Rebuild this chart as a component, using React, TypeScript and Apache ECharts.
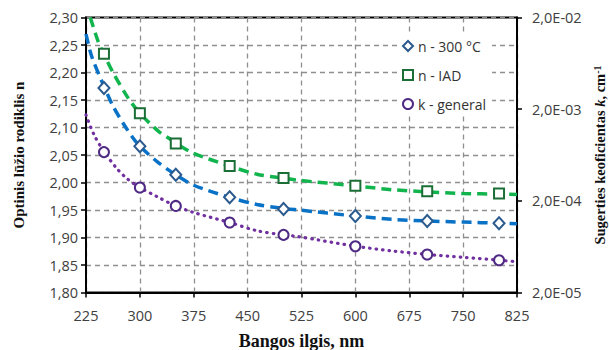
import React, { useEffect, useRef } from 'react';
import * as echarts from 'echarts';

// Measured points (wavelength, nm)
const measuredWavelengths = [250, 300, 350, 425, 500, 600, 700, 800];
const n300 = [2.172, 2.066, 2.014, 1.973, 1.952, 1.939, 1.93, 1.926];
const nIAD = [2.234, 2.126, 2.071, 2.03, 2.008, 1.994, 1.984, 1.98];
const kGeneral = [6.8e-4, 2.8e-4, 1.76e-4, 1.16e-4, 8.5e-5, 6.4e-5, 5.2e-5, 4.5e-5];

// Fitted dispersion curves
const fitN300Wavelengths = [225, 233, 250, 263, 278, 291, 300, 324, 350, 375, 425, 463, 500, 521, 600, 650, 700, 750, 800, 825];
const fitN300 = [2.27, 2.229, 2.175, 2.138, 2.105, 2.08, 2.066, 2.038, 2.014, 1.995, 1.973, 1.96, 1.953, 1.95, 1.939, 1.933, 1.93, 1.928, 1.926, 1.925];

const fitNIADWavelengths = [231, 242, 250, 263, 284, 300, 326, 342, 350, 375, 425, 463, 500, 521, 600, 650, 700, 750, 800, 825];
const fitNIAD = [2.3, 2.256, 2.233, 2.199, 2.153, 2.126, 2.093, 2.079, 2.071, 2.053, 2.03, 2.015, 2.008, 2.004, 1.994, 1.987, 1.983, 1.98, 1.979, 1.978];

const fitKWavelengths = [225, 236, 250, 268, 282, 300, 324, 350, 375, 425, 463, 500, 521, 600, 649, 700, 751, 800, 825];
const fitK = [1.73e-3, 1.06e-3, 6.9e-4, 4.5e-4, 3.5e-4, 2.8e-4, 2.22e-4, 1.76e-4, 1.49e-4, 1.16e-4, 9.44e-5, 8.5e-5, 8.13e-5, 6.4e-5, 5.71e-5, 5.2e-5, 4.84e-5, 4.5e-5, 4.34e-5];

// Axis ranges
const xMin = 225;
const xMax = 825;
const xStep = 75;
const nMin = 1.8;
const nMax = 2.3;
const nStep = 0.05;
const kMin = 2e-5;
const kDecades = 3;

// Legend entries and their marker colours
const legendNames = ['n - 300 °C', 'n - IAD', 'k - general'];
const markerColors = ['#2b5a8e', '#1b6e36', '#4e2a84'];

// k is drawn on a decade scale measured from kMin
const kToAxis = (k: number) => Math.log10(k / kMin);
const kLabel = (v: number) => {
  const exp = Math.round(v) + Math.round(Math.log10(kMin / 2));
  const sign = exp < 0 ? '-' : '+';
  return `2,0E${sign}${String(Math.abs(exp)).padStart(2, '0')}`;
};

const pairs = (xs: number[], ys: number[]) => xs.map((x, i) => [x, ys[i]]);

const tickFont = { fontFamily: 'Open Sans', fontSize: 14.5, color: '#404040' };
const titleBase = { fontFamily: 'Liberation Serif', fontWeight: 'bold' as const, color: '#111' };

export default function App() {
  const ref = useRef<HTMLDivElement>(null);

  useEffect(() => {
    const chart = echarts.init(ref.current!, null, { renderer: 'svg' });
    const gridLine = { show: true, lineStyle: { color: '#8f8f8f', width: 1.3, type: [5, 4] } };
    const axisLine = { show: true, lineStyle: { color: '#000', width: 2 } };
    const axisTick = { show: true, inside: false, length: 5, lineStyle: { color: '#000', width: 1.5 } };
    const hollow = (color: string) => ({ color: '#fff', borderColor: color, borderWidth: 2, opacity: 1 });

    chart.setOption({
      animation: false,
      backgroundColor: '#fff',
      grid: {
        left: 86,
        right: 92,
        top: 17.5,
        bottom: 57.5,
        outerBoundsMode: 'none',
        containLabel: false,
        show: true,
        borderColor: '#000',
        borderWidth: 2,
        backgroundColor: 'transparent',
      },
      legend: {
        orient: 'vertical',
        left: 397,
        top: 34,
        padding: [5, 6, 5, 5],
        itemGap: 15,
        itemWidth: 10,
        itemHeight: 10,
        backgroundColor: '#fff',
        data: legendNames.map((name, i) => ({ name, itemStyle: hollow(markerColors[i]) })),
        textStyle: { fontFamily: 'Open Sans', fontSize: 14, color: '#333' },
      },
      xAxis: {
        type: 'value',
        min: xMin,
        max: xMax,
        interval: xStep,
        name: 'Bangos ilgis, nm',
        nameLocation: 'middle',
        nameGap: 39,
        nameTextStyle: { ...titleBase, fontSize: 18 },
        axisLine,
        axisTick,
        axisLabel: { ...tickFont, margin: 15 },
        splitLine: gridLine,
      },
      yAxis: [
        {
          type: 'value',
          min: nMin,
          max: nMax,
          interval: nStep,
          name: 'Optinis lūžio rodiklis n',
          nameLocation: 'middle',
          nameGap: 60,
          nameRotate: 90,
          nameTextStyle: { ...titleBase, fontSize: 15 },
          axisLine,
          axisTick,
          axisLabel: { ...tickFont, margin: 8, formatter: (v: number) => v.toFixed(2).replace('.', ',') },
          splitLine: gridLine,
        },
        {
          type: 'value',
          position: 'right',
          min: 0,
          max: kDecades,
          interval: 1,
          name: '{t|Sugerties keoficientas }{i|k}{t|, cm}{s|-1}',
          nameLocation: 'middle',
          nameGap: 74,
          nameRotate: 90,
          nameTextStyle: {
            rich: {
              t: { ...titleBase, fontSize: 14.5 },
              i: { ...titleBase, fontSize: 14.5, fontStyle: 'italic' },
              s: { ...titleBase, fontSize: 10, verticalAlign: 'top', lineHeight: 15 },
            },
          },
          axisLine,
          axisTick,
          axisLabel: { ...tickFont, margin: 15, formatter: kLabel },
          splitLine: { show: false },
        },
      ],
      series: [
        {
          name: 'n - 300 °C fit',
          type: 'line',
          data: pairs(fitN300Wavelengths, fitN300),
          smooth: 0.3,
          showSymbol: false,
          lineStyle: { color: '#0a72c6', width: 3.5, type: [10, 6] },
          silent: true,
          z: 2,
        },
        {
          name: 'n - IAD fit',
          type: 'line',
          data: pairs(fitNIADWavelengths, fitNIAD),
          smooth: 0.3,
          showSymbol: false,
          lineStyle: { color: '#12b44e', width: 3.5, type: [10, 6] },
          silent: true,
          z: 2,
        },
        {
          name: 'k - general fit',
          type: 'line',
          yAxisIndex: 1,
          data: fitKWavelengths.map((x, i) => [x, kToAxis(fitK[i])]),
          smooth: 0.3,
          showSymbol: false,
          lineStyle: { color: '#7030a0', width: 3.2, type: [0.5, 6], cap: 'round' },
          silent: true,
          z: 2,
        },
        {
          name: legendNames[0],
          type: 'scatter',
          data: pairs(measuredWavelengths, n300),
          symbol: 'diamond',
          symbolSize: [11, 12],
          itemStyle: hollow(markerColors[0]),
          z: 5,
        },
        {
          name: legendNames[1],
          type: 'scatter',
          data: pairs(measuredWavelengths, nIAD),
          symbol: 'rect',
          symbolSize: 10,
          itemStyle: hollow(markerColors[1]),
          z: 5,
        },
        {
          name: legendNames[2],
          type: 'scatter',
          yAxisIndex: 1,
          data: measuredWavelengths.map((x, i) => [x, kToAxis(kGeneral[i])]),
          symbol: 'circle',
          symbolSize: 10,
          itemStyle: hollow(markerColors[2]),
          z: 5,
        },
      ],
    });
    return () => chart.dispose();
  }, []);

  return (
    <div
      ref={ref}
      style={{ position: 'fixed', left: 0, top: 0, width: 609, height: 350, background: '#fff' }}
    />
  );
}
